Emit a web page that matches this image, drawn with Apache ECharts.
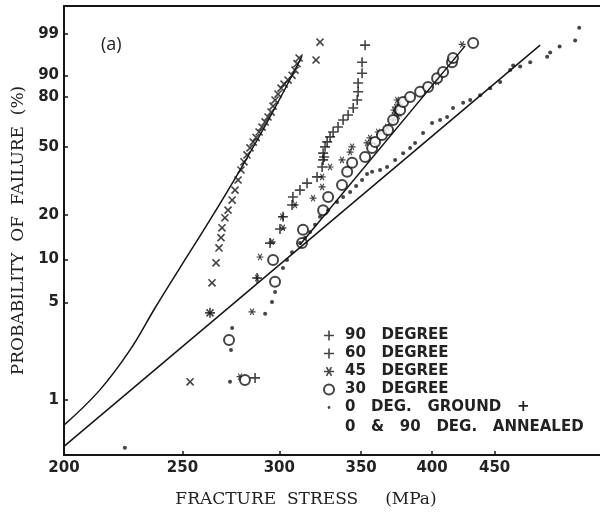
<!DOCTYPE html>
<html>
<head>
<meta charset="utf-8">
<script src="https://cdn.jsdelivr.net/npm/echarts@6/dist/echarts.min.js"></script>
<style>
  html, body { margin: 0; padding: 0; background: #fff; }
  #chart { width: 600px; height: 516px; }
</style>
</head>
<body>
<div id="chart"></div>
<script>
// Weibull plot: x = ln(stress), y = ln(-ln(1 - F))
const stressTicks = [200, 250, 300, 350, 400, 450];
const probTicks = [1, 5, 10, 20, 50, 80, 90, 99];

// [stress MPa, probability of failure %]
const deg90 = [[253.6, 1.35], [263.3, 4.22], [264.3, 6.88], [266.3, 9.48], [267.8, 12.0], [268.8, 14.1],
  [269.3, 16.4], [270.8, 19.1], [272.4, 21.4], [274.5, 24.8], [276.0, 28.6], [277.6, 32.9], [279.1, 37.6],
  [280.7, 41.8], [282.3, 45.5], [283.9, 49.5], [285.6, 52.9], [287.2, 55.6], [288.8, 59.0], [290.4, 62.0],
  [292.1, 65.2], [293.7, 68.2], [295.4, 71.2], [296.5, 74.7], [297.6, 78.2], [299.3, 81.4], [301.0, 84.4],
  [302.7, 86.3], [305.0, 88.1], [307.3, 90.0], [309.0, 91.9], [310.2, 93.9], [311.4, 95.4], [321.5, 94.9],
  [323.9, 98.2]];
const deg60 = [[263.3, 4.22], [286.6, 1.44], [287.7, 7.44], [294.8, 12.95], [300.4, 16.1], [302.1, 19.4],
  [307.3, 23.1], [307.8, 25.9], [311.9, 28.6], [316.1, 31.5], [322.1, 34.3], [325.2, 39.1], [325.8, 42.8],
  [326.4, 44.4], [325.8, 46.5], [327.0, 50.1], [328.3, 53.0], [330.1, 56.0], [332.0, 59.0], [335.1, 62.1],
  [338.3, 66.4], [341.5, 69.4], [344.8, 73.6], [347.4, 78.2], [348.0, 82.6], [348.0, 86.8], [350.6, 90.8],
  [350.6, 94.3], [352.6, 97.8]];
const deg45 = [[278.6, 1.47], [285.0, 4.29], [287.7, 7.44], [289.3, 10.4], [295.9, 13.2], [302.1, 16.4],
  [301.6, 19.4], [309.0, 23.1], [319.7, 25.5], [325.2, 29.9], [325.2, 34.3], [330.1, 39.1], [337.6, 42.8],
  [342.8, 47.1], [344.1, 50.1], [353.9, 52.4], [355.9, 55.4], [361.3, 59.0], [367.5, 62.1], [371.7, 66.4],
  [372.4, 72.4], [373.1, 70.6], [373.8, 74.1], [374.5, 78.2], [375.9, 75.9], [375.2, 68.8], [403.8, 87.2],
  [423.3, 97.9]];
const deg30 = [[281.2, 1.39], [272.9, 2.70], [297.6, 7.0], [296.5, 9.92], [313.1, 12.95], [313.7, 15.9],
  [325.8, 21.4], [328.9, 25.9], [337.6, 30.7], [340.9, 36.7], [344.1, 41.3], [352.6, 44.4], [357.3, 49.5],
  [359.3, 53.0], [364.0, 57.2], [368.2, 60.2], [371.7, 66.4], [376.7, 72.4], [378.8, 77.1], [383.8, 79.8],
  [391.1, 82.6], [397.0, 84.9], [403.8, 88.8], [408.4, 91.2], [415.3, 94.3], [416.1, 95.4], [432.2, 98.1]];
const ground = [[224.3, 0.45], [273.4, 1.35], [273.9, 2.29], [274.5, 3.29], [292.1, 4.15], [295.9, 5.04],
  [297.6, 5.92], [302.1, 8.75], [304.4, 9.92], [307.3, 11.2], [311.9, 12.95], [314.9, 14.1], [317.9, 15.4],
  [320.9, 17.2], [323.9, 19.4], [328.9, 21.4], [334.5, 24.1], [338.3, 25.9], [342.8, 27.8], [346.7, 30.3],
  [350.6, 32.9], [353.9, 35.7], [357.3, 36.7], [362.7, 37.6], [367.5, 39.1], [373.1, 42.8], [378.8, 46.5],
  [383.8, 49.5], [387.4, 52.4], [393.3, 58.4], [400.0, 64.6], [406.1, 66.4], [411.5, 68.2], [416.1, 73.6],
  [424.1, 76.6], [429.8, 78.2], [437.9, 80.8], [446.2, 84.4], [454.7, 87.2], [463.4, 91.9], [466.0, 93.4],
  [472.2, 93.1], [481.2, 94.3], [496.8, 95.7], [499.6, 96.6], [508.6, 97.6], [523.7, 98.4], [527.7, 99.4]];

// fitted curves
const fitA = [[200, 0.655], [214.0, 1.18], [226.5, 2.29], [237.4, 4.57], [248.8, 8.75], [263.3, 18.5],
  [278.6, 37.6], [294.8, 68.2], [313.1, 95.8]];
const fitB = [[200, 0.46], [490.3, 97.8]];
const fitC = [[311.9, 12.6], [425.7, 97.7]];

const tx = s => Math.log(s);
const ty = p => Math.log(-Math.log(1 - p / 100));
const toXY = d => [tx(d[0]), ty(d[1])];

const plusPath = 'path://M4.2,0h1.6v4.2h4.2v1.6h-4.2v4.2h-1.6v-4.2h-4.2v-1.6h4.2z';
const starPath = 'path://M0,4.2L10,4.2L10,5.8L0,5.8Z' +
  'M3.19,0.27L8.19,8.93L6.81,9.73L1.81,1.07Z' +
  'M6.81,0.27L8.19,1.07L3.19,9.73L1.81,8.93Z';
const dotIcon = 'path://M3.6,5a1.4,1.4 0 1,0 2.8,0a1.4,1.4 0 1,0 -2.8,0Z' +
  'M0,0L0.01,0L0,0.01ZM10,10L9.99,10L10,9.99Z';

const labelFont = { fontFamily: 'DejaVu Sans', fontWeight: 'bold', fontSize: 15, color: '#222' };
const ink = '#151515';

const myChart = echarts.init(document.getElementById('chart'));
const option = {
  animation: false,
  backgroundColor: '#fff',
  grid: { left: 64, right: 0, top: 6, bottom: 61 },
  xAxis: [
    {
      type: 'value',
      min: tx(200),
      max: tx(548.8),
      name: 'FRACTURE  STRESS     (MPa)',
      nameLocation: 'middle',
      nameGap: 36,
      nameTextStyle: { fontFamily: 'DejaVu Serif', fontSize: 17, color: '#222', padding: [0, 52, 0, 0] },
      axisLine: { onZero: false, lineStyle: { color: ink, width: 2 } },
      axisTick: { inside: true, length: 4, customValues: stressTicks.map(tx), lineStyle: { color: ink, width: 1.5 } },
      axisLabel: Object.assign({ customValues: stressTicks.map(tx), margin: 6,
        formatter: v => String(Math.round(Math.exp(v))) }, labelFont),
      splitLine: { show: false }
    },
    {
      type: 'value',
      position: 'top',
      min: tx(200),
      max: tx(548.8),
      axisLine: { show: true, onZero: false, lineStyle: { color: ink, width: 2 } },
      axisTick: { show: false },
      axisLabel: { show: false },
      splitLine: { show: false }
    }
  ],
  yAxis: {
    type: 'value',
    min: ty(0.398),
    max: ty(99.936),
    name: 'PROBABILITY  OF  FAILURE  (%)',
    nameLocation: 'middle',
    nameGap: 37,
    nameTextStyle: { fontFamily: 'DejaVu Serif', fontSize: 17, color: '#222' },
    axisLine: { show: true, onZero: false, lineStyle: { color: ink, width: 2 } },
    axisTick: { inside: true, length: 4, customValues: probTicks.map(ty), lineStyle: { color: ink, width: 1.5 } },
    axisLabel: Object.assign({ customValues: probTicks.map(ty), margin: 5,
      formatter: v => String(Math.round(100 * (1 - Math.exp(-Math.exp(v))))) }, labelFont),
    splitLine: { show: false }
  },
  legend: {
    orient: 'vertical',
    left: 318,
    top: 323,
    itemWidth: 10,
    itemHeight: 10,
    itemGap: 3,
    textStyle: { fontFamily: 'DejaVu Sans', fontWeight: 'bold', fontSize: 15, color: '#222', lineHeight: 15, padding: [0, 0, 0, 6] },
    data: [
      { name: '90   DEGREE' },
      { name: '60   DEGREE' },
      { name: '45   DEGREE' },
      { name: '30   DEGREE' },
      { name: '0   DEG.   GROUND   +', icon: dotIcon }
    ]
  },
  graphic: [
    { type: 'text', left: 101, top: 36, style: { text: '(a)', font: '18px "Open Sans"', fill: '#222' } },
    { type: 'text', left: 345, top: 420, style: { text: '0   &   90   DEG.   ANNEALED', font: 'bold 15px "DejaVu Sans"', fill: '#222' } }
  ],
  series: [
    { type: 'line', data: fitA.map(toXY), smooth: 0.4, symbol: 'none', lineStyle: { color: ink, width: 1.5 }, silent: true },
    { type: 'line', data: fitB.map(toXY), symbol: 'none', lineStyle: { color: ink, width: 1.5 }, silent: true },
    { type: 'line', data: fitC.map(toXY), symbol: 'none', lineStyle: { color: ink, width: 1.5 }, silent: true },
    { name: '90   DEGREE', type: 'scatter', data: deg90.map(toXY), symbol: plusPath, symbolRotate: 45, symbolSize: 10, itemStyle: { color: ink } },
    { name: '60   DEGREE', type: 'scatter', data: deg60.map(toXY), symbol: plusPath, symbolSize: 10, itemStyle: { color: ink } },
    { name: '45   DEGREE', type: 'scatter', data: deg45.map(toXY), symbol: starPath, symbolSize: 7, itemStyle: { color: ink } },
    { name: '30   DEGREE', type: 'scatter', data: deg30.map(toXY), symbol: 'emptyCircle', symbolSize: 10, itemStyle: { color: ink, borderWidth: 1.5 } },
    { name: '0   DEG.   GROUND   +', type: 'scatter', data: ground.map(toXY), symbol: 'circle', symbolSize: 4, itemStyle: { color: ink } }
  ]
};
myChart.setOption(option);
</script>
</body>
</html>
